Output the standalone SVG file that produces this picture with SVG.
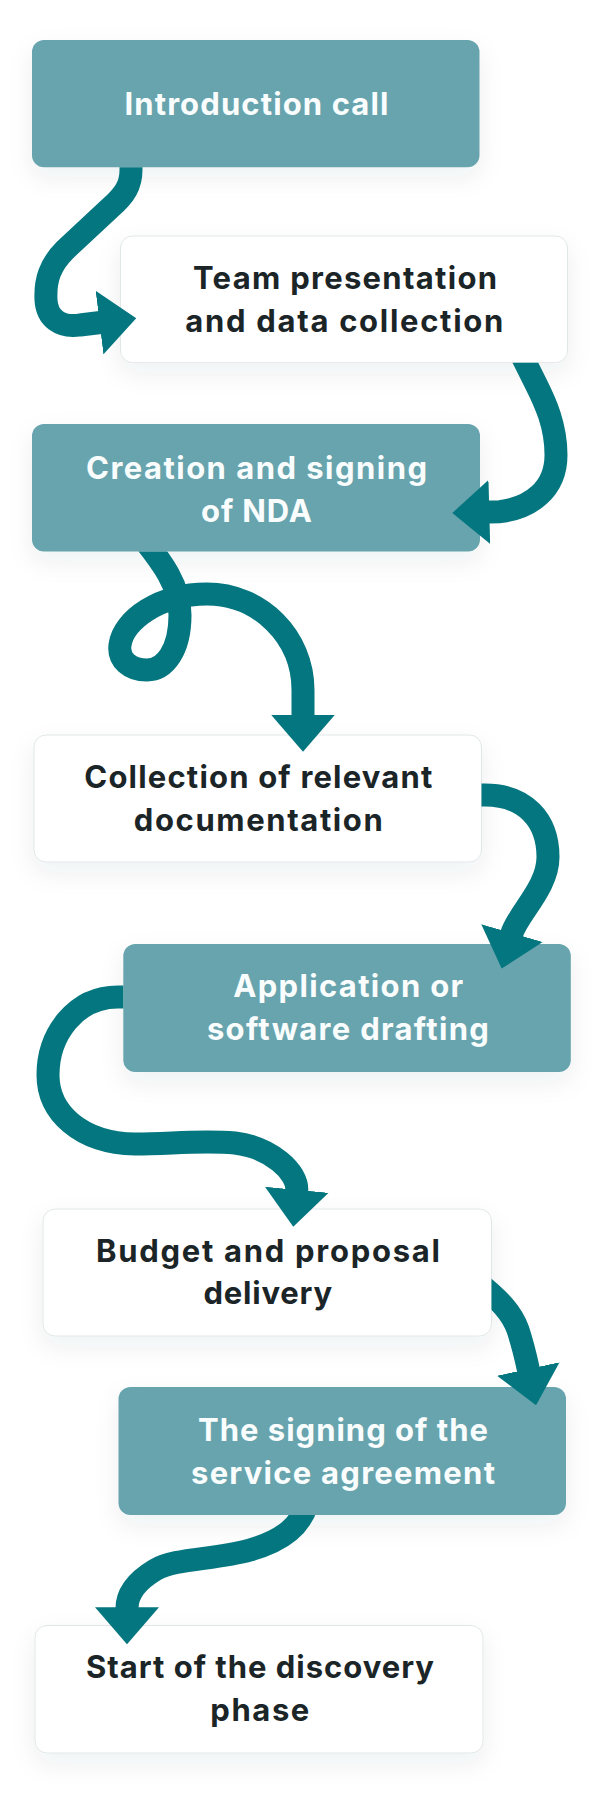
<svg xmlns="http://www.w3.org/2000/svg" width="600" height="1810" viewBox="0 0 600 1810">
<style>
.teal{fill:#68A4AE}
.card{fill:#FFFFFF;stroke:#E1E6E8;stroke-width:1}
.t{font-family:Inter,"Noto Sans",sans-serif;font-weight:700;font-size:31px;text-anchor:middle}
.tw{fill:#FAFDFD}
.td{fill:#1B2527}
.con{fill:none;stroke:#04767F;stroke-width:23;stroke-linecap:butt;stroke-linejoin:round}
</style>
<defs>
<filter id="sh" x="-20%" y="-30%" width="140%" height="170%">
<feDropShadow dx="0" dy="10" stdDeviation="12" flood-color="#1d3a40" flood-opacity="0.07"/>
</filter>
<marker id="ah" markerUnits="userSpaceOnUse" viewBox="0 0 37 64" refX="1" refY="32" markerWidth="37" markerHeight="64" orient="auto">
<path d="M0,0L37,32L0,64Z" fill="#04767F"/>
</marker>
<clipPath id="c1"><path clip-rule="evenodd" d="M0,0H600V1810H0Z M32,40H479.5V167.3H32Z"/></clipPath>
<clipPath id="c2"><path clip-rule="evenodd" d="M0,0H600V1810H0Z M120.5,236H567.5V362.7H120.5Z"/></clipPath>
<clipPath id="c3"><path clip-rule="evenodd" d="M0,0H600V1810H0Z M32,424H480V551.5H32Z"/></clipPath>
<clipPath id="c4"><path clip-rule="evenodd" d="M0,0H600V1810H0Z M34,735H481.5V862H34Z"/></clipPath>
<clipPath id="c5"><path clip-rule="evenodd" d="M0,0H600V1810H0Z M123.3,944H570.8V1072H123.3Z"/></clipPath>
<clipPath id="c6"><path clip-rule="evenodd" d="M0,0H600V1810H0Z M43,1209H491.5V1336H43Z"/></clipPath>
<clipPath id="c7"><path clip-rule="evenodd" d="M0,0H600V1810H0Z M118.5,1387H566V1515H118.5Z"/></clipPath>
</defs>
<rect x="0" y="0" width="600" height="1810" fill="#FFFFFF"/>

<g id="node-introduction-call">
<rect class="teal" filter="url(#sh)" x="32" y="40" width="447.5" height="127.3" rx="12"/>
<text class="t tw" x="256.4" y="115" textLength="264" lengthAdjust="spacing">Introduction call</text>
</g>
<g id="node-team-presentation">
<rect class="card" filter="url(#sh)" x="120.5" y="236" width="447" height="126.7" rx="12"/>
<text class="t td" x="345" y="289" textLength="304" lengthAdjust="spacing">Team presentation</text>
<text class="t td" x="344.3" y="332" textLength="318" lengthAdjust="spacing">and data collection</text>
</g>
<g id="node-nda">
<rect class="teal" filter="url(#sh)" x="32" y="424" width="448" height="127.5" rx="12"/>
<text class="t tw" x="256.5" y="478.5" textLength="341" lengthAdjust="spacing">Creation and signing</text>
<text class="t tw" x="256.5" y="521.5" textLength="111" lengthAdjust="spacing">of NDA</text>
</g>
<g id="node-documentation">
<rect class="card" filter="url(#sh)" x="34" y="735" width="447.5" height="127" rx="12"/>
<text class="t td" x="258.3" y="788" textLength="348" lengthAdjust="spacing">Collection of relevant</text>
<text class="t td" x="258.3" y="831" textLength="249" lengthAdjust="spacing">documentation</text>
</g>
<g id="node-drafting">
<rect class="teal" filter="url(#sh)" x="123.3" y="944" width="447.5" height="128" rx="12"/>
<text class="t tw" x="348.2" y="997" textLength="230" lengthAdjust="spacing">Application or</text>
<text class="t tw" x="347.9" y="1040" textLength="282" lengthAdjust="spacing">software drafting</text>
</g>
<g id="node-budget">
<rect class="card" filter="url(#sh)" x="43" y="1209" width="448.5" height="127" rx="12"/>
<text class="t td" x="267.9" y="1261.5" textLength="344" lengthAdjust="spacing">Budget and proposal</text>
<text class="t td" x="267.8" y="1304" textLength="128.6" lengthAdjust="spacing">delivery</text>
</g>
<g id="node-agreement">
<rect class="teal" filter="url(#sh)" x="118.5" y="1387" width="447.5" height="128" rx="12"/>
<text class="t tw" x="343" y="1441" textLength="290" lengthAdjust="spacing">The signing of the</text>
<text class="t tw" x="343" y="1484" textLength="304" lengthAdjust="spacing">service agreement</text>
</g>
<g id="node-discovery">
<rect class="card" filter="url(#sh)" x="35" y="1625.5" width="448" height="127.5" rx="12"/>
<text class="t td" x="260" y="1678" textLength="348" lengthAdjust="spacing">Start of the discovery</text>
<text class="t td" x="259.8" y="1721" textLength="99" lengthAdjust="spacing">phase</text>
</g>

<g id="connectors">
<path class="con" clip-path="url(#c1)" marker-end="url(#ah)" d="M131,158 L131,170 C131,185 125,195 110,208 L65,250 C50,265 45,280 46,300 C47,318 60,328 80,325 L100.5,322.5"/>
<path class="con" clip-path="url(#c2)" marker-end="url(#ah)" d="M517,346 L536,384 C545,402 556,425 556,455 C556,490 530,508 500,511.7 L488.3,512"/>
<path class="con" clip-path="url(#c3)" marker-end="url(#ah)" d="M145,541 C160,560 180,585 180,615 C180,650 165,670 147,670 C130,670 118,660 120,645 C123,620 160,594 207,594 C260,594 303,637 303,690 L303,715.7"/>
<path class="con" clip-path="url(#c4)" marker-end="url(#ah)" d="M470,795 L485,795 C525,795 548,820 548,857 C548,888 517.5,914 511.7,934"/>
<path class="con" clip-path="url(#c5)" marker-end="url(#ah)" d="M130,997 L118,997 C75,997 48,1035 48,1075 C48,1112 80,1143 135,1144 C170,1144 200,1140 235,1143 C270,1147 298.5,1172 296.7,1190.8"/>
<path class="con" clip-path="url(#c6)" marker-end="url(#ah)" d="M476,1281 C500,1300 512,1313 518,1330 C522,1342 525.5,1356 528.5,1370"/>
<path class="con" clip-path="url(#c7)" marker-end="url(#ah)" d="M307,1505 C300,1525 285,1540 250,1550 C215,1560 175,1558 155,1570 C135,1582 127,1595 127,1608.3"/>
</g>
</svg>
